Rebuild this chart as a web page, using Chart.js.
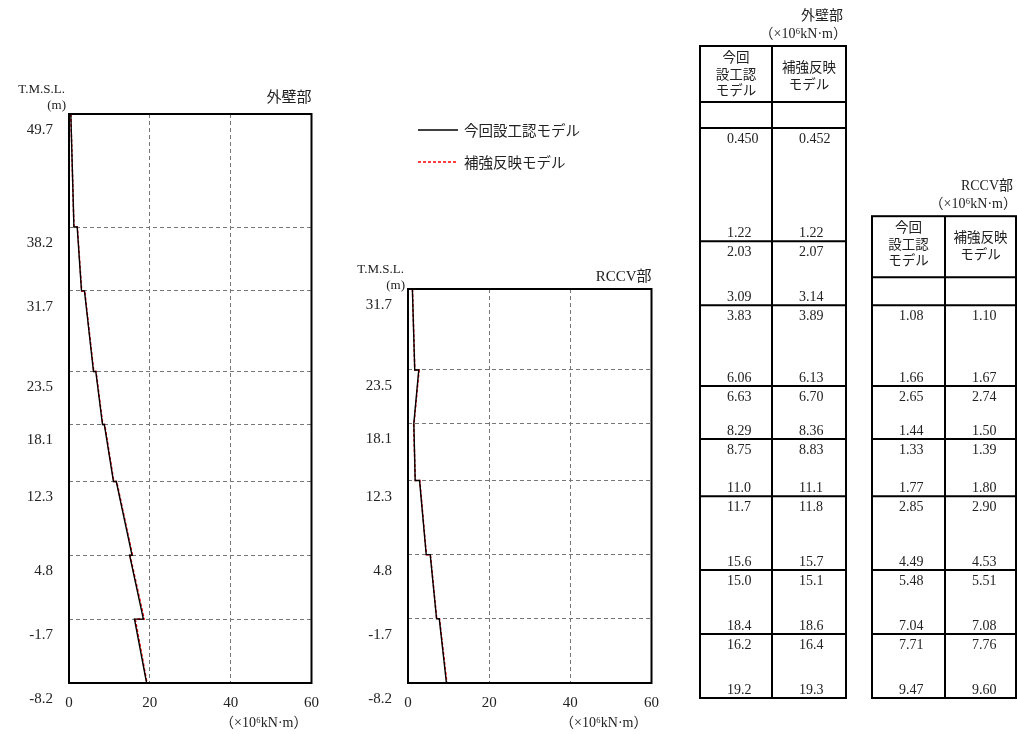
<!DOCTYPE html>
<html lang="ja">
<head>
<meta charset="UTF-8">
<title>曲げモーメント分布</title>
<style>
  body { margin: 0; background: #fff; }
  #wrap { position: relative; width: 1017px; height: 734px; overflow: hidden; }
  canvas { position: absolute; top: 0; }
</style>
</head>
<body>
<div id="wrap">
  <canvas id="gWall" width="330" height="734" style="left:0"></canvas>
  <canvas id="gRccv" width="330" height="734" style="left:340px"></canvas>
  <canvas id="gTable" width="327" height="734" style="left:690px"></canvas>
</div>

<script src="https://cdn.jsdelivr.net/npm/chart.js"></script>
<script>
const seriesNames = ['今回設工認モデル', '補強反映モデル']
const headKon = ['今回', '設工認', 'モデル']
const headHok = ['補強反映', 'モデル']
const unitText = '（×10⁶kN·m）'
const xTicks = [0, 20, 40, 60]

// 外壁部 : 標高 (T.M.S.L. m) と各区間の上端・下端の値 (×10^6 kN·m)
const wallElev = [49.7, 38.2, 31.7, 23.5, 18.1, 12.3, 4.8, -1.7, -8.2]
const wallKonTop = [0.450, 2.03, 3.83, 6.63, 8.75, 11.7, 15.0, 16.2]
const wallKonBot = [1.22, 3.09, 6.06, 8.29, 11.0, 15.6, 18.4, 19.2]
const wallHokTop = [0.452, 2.07, 3.89, 6.70, 8.83, 11.8, 15.1, 16.4]
const wallHokBot = [1.22, 3.14, 6.13, 8.36, 11.1, 15.7, 18.6, 19.3]

// RCCV部
const rccvElev = [31.7, 23.5, 18.1, 12.3, 4.8, -1.7, -8.2]
const rccvKonTop = [1.08, 2.65, 1.33, 2.85, 5.48, 7.71]
const rccvKonBot = [1.66, 1.44, 1.77, 4.49, 7.04, 9.47]
const rccvHokTop = [1.10, 2.74, 1.39, 2.90, 5.51, 7.76]
const rccvHokBot = [1.67, 1.50, 1.80, 4.53, 7.08, 9.60]

const SERIF = '"Liberation Serif", "Noto Sans CJK JP", serif'
const GOTHIC = '"Noto Sans CJK JP", sans-serif'
const TEXT = '#222'
const fmt = v => v.toPrecision(3)

// 区間ごとに上端→下端の点を並べる（標高の段差で横に飛ぶ）
function profile(elev, top, bot) {
  const pts = []
  for (let i = 0; i < top.length; i++) {
    pts.push({ x: top[i], y: elev[i] })
    pts.push({ x: bot[i], y: elev[i + 1] })
  }
  return pts
}

const framePlugin = {
  id: 'frame',
  afterDraw(chart, args, opts) {
    const { ctx, chartArea: a } = chart
    ctx.save()
    ctx.strokeStyle = '#000'
    ctx.lineWidth = 2
    ctx.strokeRect(a.left, a.top, a.right - a.left, a.bottom - a.top)
    ctx.fillStyle = TEXT
    ctx.textAlign = 'right'
    ctx.textBaseline = 'middle'
    ctx.font = '13px ' + SERIF
    ctx.fillText('T.M.S.L.', a.left - 4, a.top + opts.dy[0])
    ctx.fillText('(m)', a.left - 3, a.top + opts.dy[1])
    ctx.font = '15px ' + SERIF
    ctx.fillText(opts.title, a.right, a.top + opts.dy[2])
    ctx.font = '14px ' + SERIF
    ctx.fillText(unitText, a.right - 4, a.bottom + 40)
    ctx.restore()
  }
}

const legendPlugin = {
  id: 'sideLegend',
  afterDraw(chart, args, opts) {
    if (!opts.show) return
    const ctx = chart.ctx
    chart.data.datasets.forEach((ds, i) => {
      const y = opts.y + i * 32
      ctx.save()
      ctx.strokeStyle = ds.borderColor
      ctx.lineWidth = ds.borderWidth
      ctx.setLineDash(ds.borderDash || [])
      ctx.beginPath()
      ctx.moveTo(opts.x, y)
      ctx.lineTo(opts.x + 40, y)
      ctx.stroke()
      ctx.fillStyle = TEXT
      ctx.font = '14.5px ' + GOTHIC
      ctx.textBaseline = 'middle'
      ctx.fillText(ds.label, opts.x + 46, y)
      ctx.restore()
    })
  }
}

function profileChart(id, elev, kon, hok, title, pad, dy, legend) {
  const gridOpts = { color: '#777', lineWidth: 1, drawTicks: false }
  const borderOpts = { display: false, dash: [4, 3] }
  return new Chart(document.getElementById(id), {
    type: 'scatter',
    data: {
      datasets: [
        { label: seriesNames[0], data: kon, showLine: true, borderColor: '#000', borderWidth: 1.4, pointRadius: 0 },
        { label: seriesNames[1], data: hok, showLine: true, borderColor: '#ff0000', borderWidth: 1.5, borderDash: [3, 2], pointRadius: 0 }
      ]
    },
    options: {
      responsive: false,
      animation: false,
      devicePixelRatio: 1,
      layout: { padding: { top: pad.top, right: pad.right, left: 0, bottom: 0 } },
      plugins: {
        legend: { display: false },
        tooltip: { enabled: false },
        frame: { title: title, dy: dy },
        sideLegend: legend
      },
      scales: {
        x: {
          type: 'linear', min: 0, max: 60,
          afterBuildTicks: s => { s.ticks = xTicks.map(v => ({ value: v })) },
          afterFit: s => { s.height = 51 },
          grid: gridOpts,
          border: borderOpts,
          ticks: { padding: 11, color: TEXT, font: { family: SERIF, size: 15 } }
        },
        y: {
          type: 'linear', min: elev[elev.length - 1], max: elev[0],
          afterBuildTicks: s => { s.ticks = elev.map(v => ({ value: v })) },
          afterFit: s => { s.width = pad.left },
          grid: gridOpts,
          border: borderOpts,
          ticks: {
            autoSkip: false, padding: 16, labelOffset: 16, color: TEXT,
            font: { family: SERIF, size: 15 },
            callback: v => v.toFixed(1)
          }
        }
      }
    },
    plugins: [framePlugin, legendPlugin]
  })
}

profileChart('gWall', wallElev,
  profile(wallElev, wallKonTop, wallKonBot), profile(wallElev, wallHokTop, wallHokBot),
  '外壁部', { left: 69, top: 114, right: 17 }, [-24, -8, -16], { show: false })

profileChart('gRccv', rccvElev,
  profile(rccvElev, rccvKonTop, rccvKonBot), profile(rccvElev, rccvHokTop, rccvHokBot),
  'RCCV部', { left: 68, top: 289, right: 18 }, [-19, -3, -12], { show: true, x: 78, y: 130 })

// 数値表
const tables = [
  { title: '外壁部', left: 10, colW: [72, 74], headH: 56, emptyH: 26,
    elev: wallElev, kon: [wallKonTop, wallKonBot], hok: [wallHokTop, wallHokBot] },
  { title: 'RCCV部', left: 182, colW: [73, 71], headH: 61, emptyH: 28,
    elev: rccvElev, kon: [rccvKonTop, rccvKonBot], hok: [rccvHokTop, rccvHokBot] }
]

function drawTable(ctx, ys, t) {
  const x0 = t.left, x1 = x0 + t.colW[0], x2 = x1 + t.colW[1]
  const yFirst = ys.getPixelForValue(t.elev[0])
  const yLast = ys.getPixelForValue(t.elev[t.elev.length - 1])
  const yEmpty = yFirst - t.emptyH
  const yTop = yEmpty - t.headH

  ctx.fillStyle = TEXT
  ctx.textBaseline = 'middle'
  ctx.textAlign = 'right'
  ctx.font = '14px ' + SERIF
  ctx.fillText(t.title, x2 - 3, yTop - 30)
  ctx.font = '14px ' + SERIF
  ctx.fillText(unitText, x2 + 1, yTop - 12)

  ctx.textAlign = 'center'
  ctx.font = '13.5px ' + GOTHIC
  headKon.forEach((s, i) => ctx.fillText(s, (x0 + x1) / 2, yTop + 11 + i * 16.5))
  headHok.forEach((s, i) => ctx.fillText(s, (x1 + x2) / 2, yTop + 21 + i * 16.5))

  ctx.textAlign = 'left'
  ctx.font = '14px ' + SERIF
  for (let i = 0; i < t.elev.length - 1; i++) {
    const ya = ys.getPixelForValue(t.elev[i])
    const yb = ys.getPixelForValue(t.elev[i + 1])
    ctx.fillText(fmt(t.kon[0][i]), x0 + 27, ya + 11)
    ctx.fillText(fmt(t.kon[1][i]), x0 + 27, yb - 8)
    ctx.fillText(fmt(t.hok[0][i]), x1 + 27, ya + 11)
    ctx.fillText(fmt(t.hok[1][i]), x1 + 27, yb - 8)
  }

  ctx.strokeStyle = '#000'
  ctx.lineWidth = 2
  ctx.strokeRect(x0, yTop, x2 - x0, yLast - yTop)
  ctx.beginPath()
  ctx.moveTo(x1, yTop)
  ctx.lineTo(x1, yLast)
  const rows = [yEmpty, yFirst].concat(t.elev.slice(1, -1).map(v => ys.getPixelForValue(v)))
  rows.forEach(y => { ctx.moveTo(x0, y); ctx.lineTo(x2, y) })
  ctx.stroke()
}

const tablePlugin = {
  id: 'valueTables',
  afterDraw(chart) {
    const ctx = chart.ctx
    ctx.save()
    tables.forEach(t => drawTable(ctx, chart.scales.y, t))
    ctx.restore()
  }
}

new Chart(document.getElementById('gTable'), {
  type: 'scatter',
  data: { datasets: [] },
  options: {
    responsive: false,
    animation: false,
    devicePixelRatio: 1,
    layout: { padding: { top: 128, bottom: 36, left: 0, right: 0 } },
    plugins: { legend: { display: false }, tooltip: { enabled: false } },
    scales: {
      x: { display: false, min: 0, max: 1 },
      y: { display: false, min: wallElev[wallElev.length - 1], max: wallElev[0] }
    }
  },
  plugins: [tablePlugin]
})
</script>
</body>
</html>
